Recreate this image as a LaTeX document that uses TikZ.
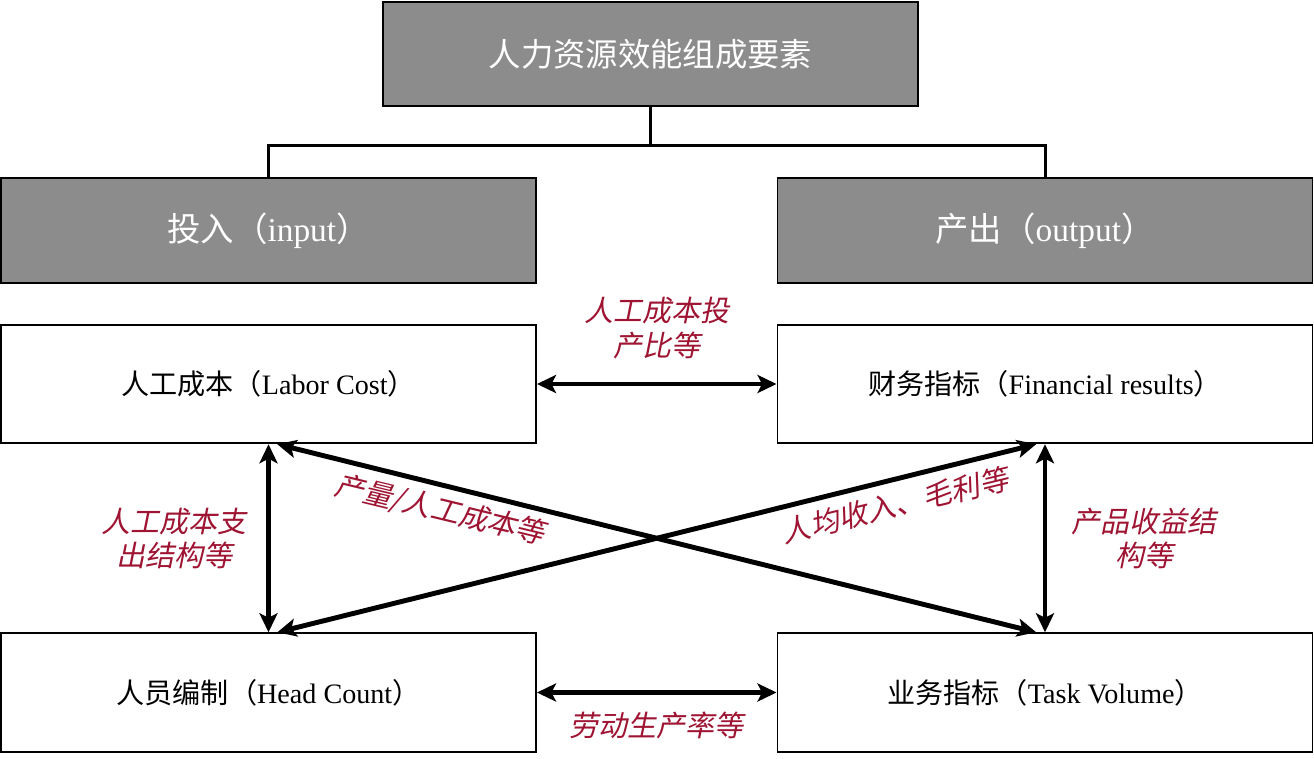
\documentclass[tikz,border=0pt]{standalone}
\usepackage{fontspec}
\setmainfont{Liberation Serif}
\newfontfamily\cjk{Noto Sans CJK SC}
\newfontfamily\cjkit[FakeSlant=0.2]{Noto Sans CJK SC}
\usetikzlibrary{arrows.meta, calc}
\definecolor{headgray}{RGB}{140,140,140}
\definecolor{notered}{RGB}{158,20,50}

\begin{document}
\begin{tikzpicture}[
    head box/.style={
        rectangle,
        draw=black,
        line width=1.1pt,
        fill=headgray,
        text=white,
        minimum width=10.7cm,
        minimum height=2.1cm,
        align=center,
        font=\fontsize{19}{22}\selectfont
    },
    item box/.style={
        rectangle,
        draw=black,
        line width=1.1pt,
        minimum width=10.7cm,
        minimum height=2.37cm,
        align=center,
        font=\fontsize{16}{19}\selectfont
    },
    relation label/.style={
        text=notered,
        align=center,
        inner sep=1pt,
        font=\cjkit\fontsize{16.5}{19.5}\selectfont
    },
    relation/.style={
        {Stealth[length=3.8mm, width=3.6mm, inset=0.9mm]}-{Stealth[length=3.8mm, width=3.6mm, inset=0.9mm]},
        line width=2.8pt
    }
]
    \useasboundingbox (0,0) rectangle (26.28,-15.16);

    \node[head box, minimum height=2.08cm, font=\cjk\fontsize{18.4}{22}\selectfont] (total) at (13.01,-1.08) {人力资源效能组成要素};
    \node[head box] (input) at (5.37,-4.61) {{\cjk 投入（}input{\cjk ）}};
    \node[head box] (output) at (20.9,-4.61) {{\cjk 产出（}output{\cjk ）}};

    \node[item box] (labor) at (5.37,-7.68) {{\cjk 人工成本（}Labor Cost{\cjk ）}};
    \node[item box] (finance) at (20.9,-7.68) {{\cjk 财务指标（}Financial results{\cjk ）}};
    \node[item box] (staff) at (5.37,-13.85) {{\cjk 人员编制（}Head Count{\cjk ）}};
    \node[item box] (task) at (20.9,-13.85) {{\cjk 业务指标（}Task Volume{\cjk ）}};

    % --- tree ---
    \coordinate (fork) at ($(total.south)+(0,-0.78)$);
    \draw[line width=1.7pt] (total.south) -- (fork);
    \draw[line width=1.7pt] (input.north) |- (fork) -| (output.north);

    % --- relations ---
    \draw[relation] (labor.east) -- (finance.west)
        node[midway, above=0.42cm, relation label] {人工成本投\\产比等};
    \draw[relation] (staff.east) -- (task.west)
        node[midway, below=0.3cm, relation label] {劳动生产率等};
    \draw[relation] (labor.south) -- (staff.north)
        node[midway, left=0.35cm, relation label] {人工成本支\\出结构等};
    \draw[relation] (finance.south) -- (task.north)
        node[midway, right=0.45cm, relation label] {产品收益结\\构等};
    \draw[relation] ([xshift=5pt]labor.south) -- ([xshift=-5pt]task.north);
    \draw[relation] ([xshift=-5pt]finance.south) -- ([xshift=5pt]staff.north);

    \node[relation label, rotate=-13.6] (ratio) at (8.8,-10.2) {产量/人工成本等};
    \node[relation label, rotate=13.6] (revenue) at (17.9,-10.1) {人均收入、毛利等};

\end{tikzpicture}
\end{document}
